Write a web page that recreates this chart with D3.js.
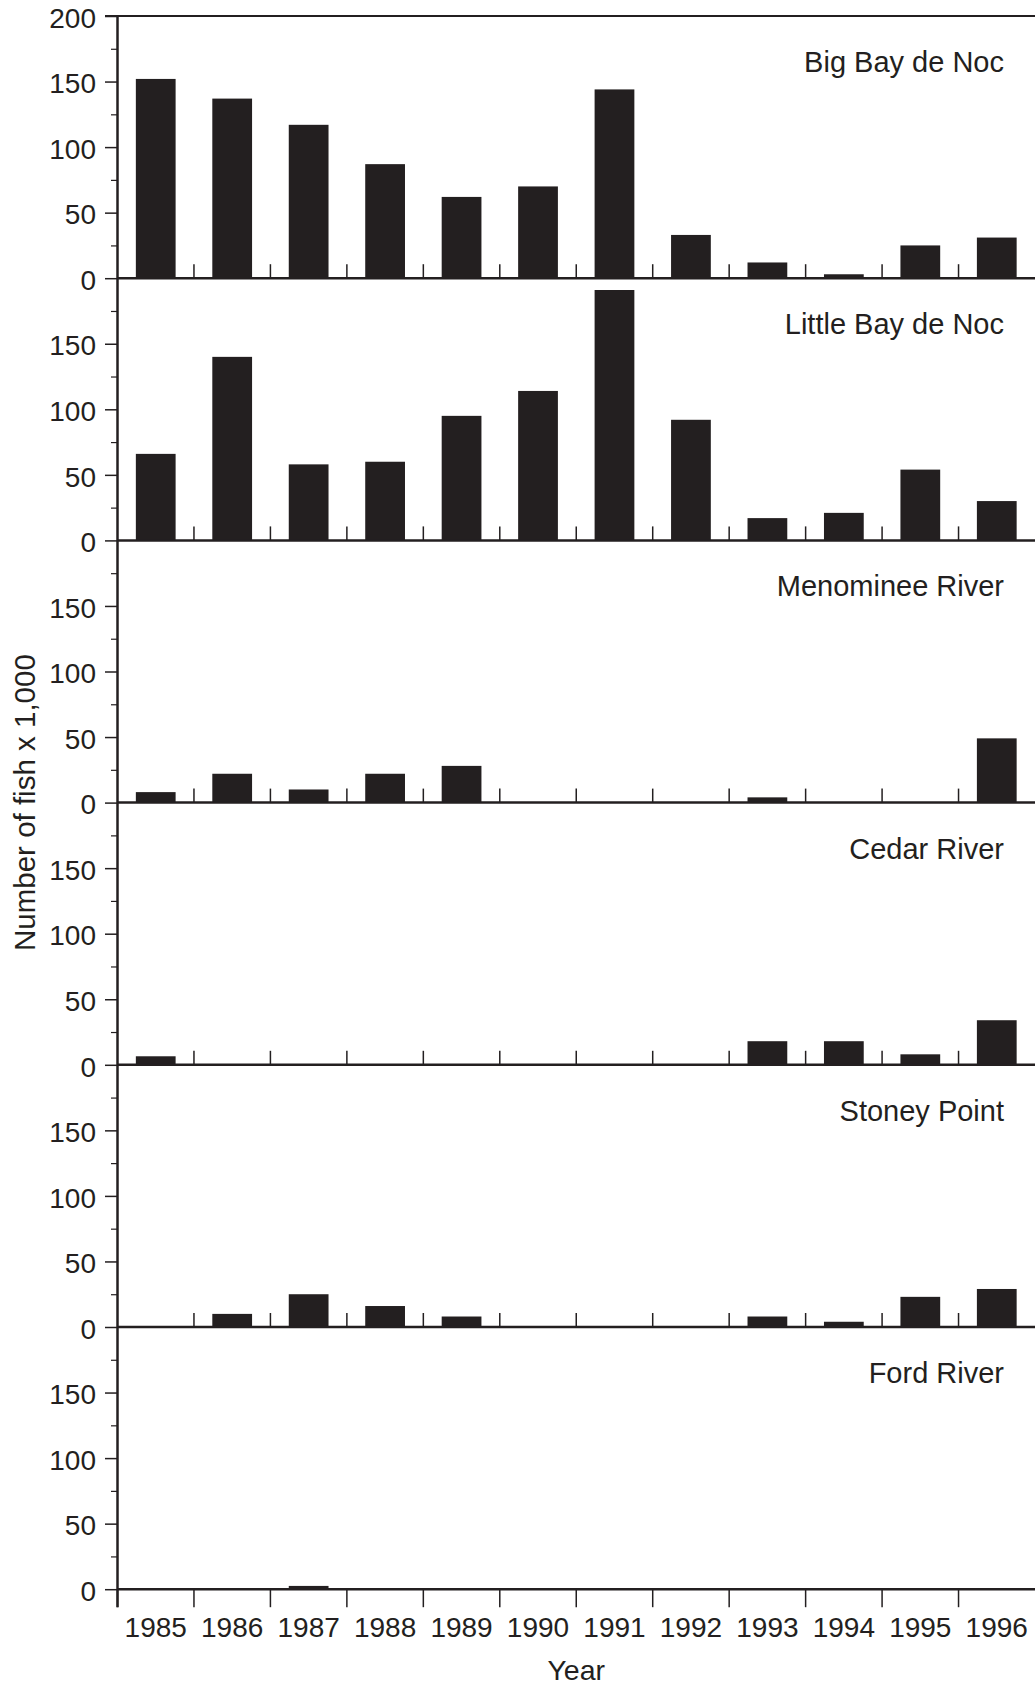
<!DOCTYPE html>
<html>
<head>
<meta charset="utf-8">
<script src="https://cdn.jsdelivr.net/npm/d3@7"></script>
<style>
  html, body { margin: 0; padding: 0; background: #fff; }
  svg { display: block; }
  text { font-family: "Liberation Sans", Arial, Helvetica, sans-serif; fill: #231f20; }
</style>
</head>
<body>
<svg id="chart" width="1035" height="1686"></svg>
<script>
// ---- Data ----
const years = ["1985","1986","1987","1988","1989","1990","1991","1992","1993","1994","1995","1996"];
const sites = ["Big Bay de Noc","Little Bay de Noc","Menominee River","Cedar River","Stoney Point","Ford River"];
const bigBayDeNoc    = [152, 137, 117, 87, 62, 70, 144, 33, 12, 3, 25, 31];
const littleBayDeNoc = [66, 140, 58, 60, 95, 114, 191, 92, 17, 21, 54, 30];
const menomineeRiver = [8, 22, 10, 22, 28, 0, 0, 0, 4, 0, 0, 49];
const cedarRiver     = [6.5, 0, 0, 0, 0, 0, 0, 0, 18, 18, 8, 34];
const stoneyPoint    = [0, 10, 25, 16, 8, 0, 0, 0, 8, 4, 23, 29];
const fordRiver      = [0.5, 0.5, 2.5, 0, 0, 0, 0, 0, 0, 0, 0, 0];
const seriesValues = [bigBayDeNoc, littleBayDeNoc, menomineeRiver, cedarRiver, stoneyPoint, fordRiver];
const majorTicks = [0, 50, 100, 150];
const minorTicks = [25, 75, 125, 175];
const yMax = 200;
const xTitle = "Year";
const yTitle = "Number of fish x 1,000";

// ---- Layout ----
const ink = "#231f20";
const svg = d3.select("#chart");
const left = 117.5, right = 1035, top0 = 16, panelH = 262.2;

const xBand = d3.scaleBand().domain(years).range([left, right]).paddingInner(0).paddingOuter(0);
const xBar = d3.scaleBand().domain(years).range([left, right]).paddingInner(0.48).paddingOuter(0.24);

seriesValues.forEach((vals, i) => {
  const top = top0 + i * panelH;
  const base = top + panelH;
  const y = d3.scaleLinear().domain([0, yMax]).range([base, top]);
  const g = svg.append("g");

  // bars
  g.selectAll("rect.bar").data(vals.map((v, j) => ({ year: years[j], v })))
    .join("rect")
    .attr("class", "bar")
    .attr("x", d => xBar(d.year))
    .attr("width", xBar.bandwidth())
    .attr("y", d => y(d.v))
    .attr("height", d => base - y(d.v))
    .attr("fill", ink);

  // major y ticks + labels
  const majors = i === 0 ? majorTicks.concat([yMax]) : majorTicks;
  const axMaj = g.append("g").attr("transform", `translate(${left},0)`)
    .call(d3.axisLeft(y).tickValues(majors).tickSize(12.5).tickPadding(9).tickFormat(d3.format("d")));
  axMaj.select(".domain").remove();
  axMaj.selectAll("line").attr("stroke", ink).attr("stroke-width", 1.5);
  axMaj.selectAll("text").attr("font-size", 28).attr("dy", "0.4em")
    .attr("font-family", "'Liberation Sans', Arial, sans-serif").attr("fill", ink);

  // minor y ticks
  const axMin = g.append("g").attr("transform", `translate(${left},0)`)
    .call(d3.axisLeft(y).tickValues(minorTicks).tickSize(6.5).tickFormat(""));
  axMin.select(".domain").remove();
  axMin.selectAll("line").attr("stroke", ink).attr("stroke-width", 1.2);

  // x boundary ticks
  if (i < seriesValues.length - 1) {
    g.selectAll("line.xt").data(years.slice(1)).join("line")
      .attr("class", "xt")
      .attr("x1", d => xBand(d)).attr("x2", d => xBand(d))
      .attr("y1", base).attr("y2", base - 14)
      .attr("stroke", ink).attr("stroke-width", 1.5);
  } else {
    g.selectAll("line.xt").data(years).join("line")
      .attr("class", "xt")
      .attr("x1", d => xBand(d)).attr("x2", d => xBand(d))
      .attr("y1", base).attr("y2", base + 18)
      .attr("stroke", ink).attr("stroke-width", 1.5);
    g.selectAll("text.yr").data(years).join("text")
      .attr("class", "yr")
      .attr("x", d => xBand(d) + xBand.bandwidth() / 2)
      .attr("y", base + 48)
      .attr("text-anchor", "middle")
      .attr("font-size", 28)
      .text(d => d);
  }

  // baseline
  g.append("line").attr("x1", left).attr("x2", right).attr("y1", base).attr("y2", base)
    .attr("stroke", ink).attr("stroke-width", 2.5);

  // panel label
  g.append("text").attr("x", 1004).attr("y", top + 56)
    .attr("text-anchor", "end").attr("font-size", 29).text(sites[i]);
});

// top line
svg.append("line").attr("x1", 105).attr("x2", right).attr("y1", top0).attr("y2", top0)
  .attr("stroke", ink).attr("stroke-width", 2);

// y axis line
const bottomBase = top0 + seriesValues.length * panelH;
svg.append("line").attr("x1", left).attr("x2", left).attr("y1", top0 - 1).attr("y2", bottomBase + 18)
  .attr("stroke", ink).attr("stroke-width", 2.5);

// axis titles
svg.append("text").attr("x", (left + right) / 2).attr("y", 1680)
  .attr("text-anchor", "middle").attr("font-size", 28.5).text(xTitle);
svg.append("text")
  .attr("transform", `translate(35,${top0 + 3 * panelH}) rotate(-90)`)
  .attr("text-anchor", "middle").attr("font-size", 29.5).text(yTitle);
</script>
</body>
</html>
